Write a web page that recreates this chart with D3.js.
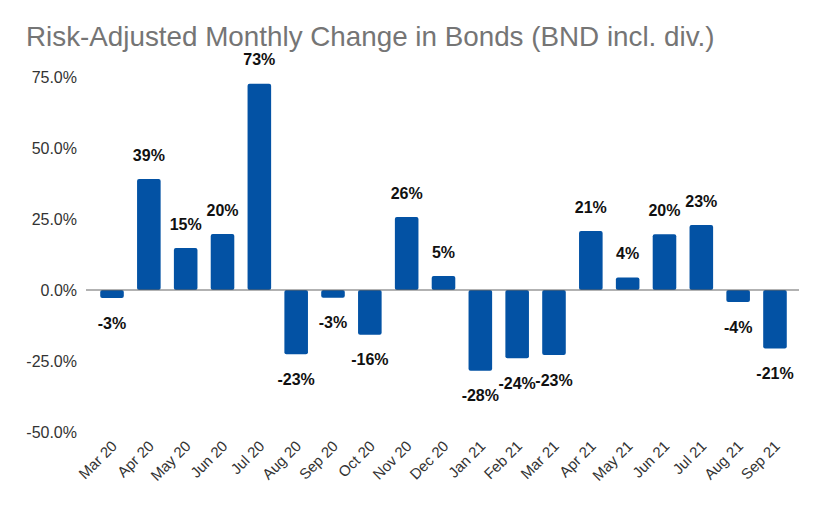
<!DOCTYPE html>
<html>
<head>
<meta charset="utf-8">
<script src="https://cdn.jsdelivr.net/npm/d3@7"></script>
<style>
  body { margin: 0; background: #fff; }
  text { font-family: "Liberation Sans", Arial, sans-serif; }
</style>
</head>
<body>
<svg id="chart" width="825" height="510"></svg>
<script>
const months = ['Mar 20', 'Apr 20', 'May 20', 'Jun 20', 'Jul 20', 'Aug 20', 'Sep 20', 'Oct 20', 'Nov 20', 'Dec 20',
  'Jan 21', 'Feb 21', 'Mar 21', 'Apr 21', 'May 21', 'Jun 21', 'Jul 21', 'Aug 21', 'Sep 21']
const changes = [-2.8, 39.1, 14.8, 19.7, 72.6, -22.6, -2.7, -15.8, 25.7, 4.9,
  -28.4, -24.0, -22.9, 20.8, 4.4, 19.6, 22.9, -4.2, -20.6]
const yTicks = [-50, -25, 0, 25, 50, 75]

const svg = d3.select('#chart')
const margin = { left: 93.6, right: 31.6, top: 77, bottom: 78 }
const W = 825, H = 510

const x = d3.scaleBand()
  .domain(months)
  .range([margin.left, W - margin.right])
  .paddingInner(0.36)
  .paddingOuter(0.18)

const y = d3.scaleLinear()
  .domain([-50, 75])
  .range([H - margin.bottom, margin.top])

// title
svg.append('text')
  .attr('x', 26)
  .attr('y', 46)
  .attr('fill', '#757575')
  .style('font-size', '27.8px')
  .text('Risk-Adjusted Monthly Change in Bonds (BND incl. div.)')

// y axis labels
svg.append('g')
  .selectAll('text')
  .data(yTicks)
  .enter()
  .append('text')
  .attr('x', 77)
  .attr('y', d => y(d))
  .attr('dy', '0.35em')
  .attr('text-anchor', 'end')
  .attr('fill', '#333')
  .style('font-size', '16px')
  .text(d => d.toFixed(1) + '%')

// bars
svg.append('g')
  .selectAll('rect')
  .data(changes)
  .enter()
  .append('rect')
  .attr('x', (d, i) => x(months[i]))
  .attr('width', x.bandwidth())
  .attr('y', d => y(Math.max(0, d)))
  .attr('height', d => Math.abs(y(d) - y(0)))
  .attr('rx', 2)
  .attr('fill', '#0352a4')

// zero line
svg.append('line')
  .attr('x1', 86)
  .attr('x2', 799)
  .attr('y1', y(0))
  .attr('y2', y(0))
  .attr('stroke', '#666')
  .attr('stroke-width', 1.2)

// value labels
svg.append('g')
  .selectAll('text')
  .data(changes)
  .enter()
  .append('text')
  .attr('x', (d, i) => x(months[i]) + x.bandwidth() / 2)
  .attr('y', d => d >= 0 ? y(d) - 24 : y(d) + 25)
  .attr('dy', '0.35em')
  .attr('text-anchor', 'middle')
  .attr('fill', '#111')
  .style('font-size', '16px')
  .style('font-weight', 'bold')
  .text(d => Math.round(d) + '%')

// x axis labels
svg.append('g')
  .selectAll('text')
  .data(months)
  .enter()
  .append('text')
  .attr('transform', d => `translate(${x(d) + x.bandwidth() / 2 + 6},${447}) rotate(-45)`)
  .attr('text-anchor', 'end')
  .attr('fill', '#333')
  .style('font-size', '15px')
  .text(d => d)
</script>
</body>
</html>
